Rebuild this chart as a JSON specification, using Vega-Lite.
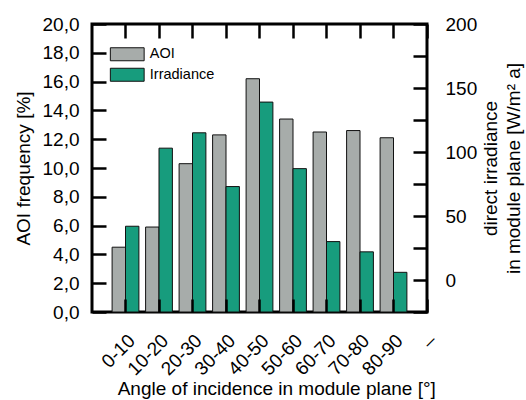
{
  "$schema": "https://vega.github.io/schema/vega-lite/v6.json",
  "width": 335,
  "height": 288,
  "autosize": "none",
  "padding": {"left": 92, "top": 24, "right": 99, "bottom": 88},
  "config": {
    "font": "Liberation Sans",
    "view": {"stroke": "black", "strokeWidth": 3},
    "axis": {
      "labelFont": "Liberation Sans",
      "titleFont": "Liberation Sans",
      "labelFontSize": 19,
      "titleFontSize": 19,
      "titleFontWeight": "normal",
      "labelColor": "black",
      "titleColor": "black",
      "ticks": true,
      "tickColor": "black",
      "tickWidth": 2.5,
      "tickOpacity": 1,
      "grid": false,
      "domain": false,
      "zindex": 1
    },
    "legend": {
      "labelFont": "Liberation Sans"
    }
  },
  "data": {
    "values": [
      {"angle": "0-10", "series": "AOI", "value": 4.5},
      {"angle": "10-20", "series": "AOI", "value": 5.9},
      {"angle": "20-30", "series": "AOI", "value": 10.3},
      {"angle": "30-40", "series": "AOI", "value": 12.3},
      {"angle": "40-50", "series": "AOI", "value": 16.2},
      {"angle": "50-60", "series": "AOI", "value": 13.4},
      {"angle": "60-70", "series": "AOI", "value": 12.5},
      {"angle": "70-80", "series": "AOI", "value": 12.6},
      {"angle": "80-90", "series": "AOI", "value": 12.1},
      {"angle": "0-10", "series": "Irradiance", "value": 42},
      {"angle": "10-20", "series": "Irradiance", "value": 103},
      {"angle": "20-30", "series": "Irradiance", "value": 115},
      {"angle": "30-40", "series": "Irradiance", "value": 73},
      {"angle": "40-50", "series": "Irradiance", "value": 139},
      {"angle": "50-60", "series": "Irradiance", "value": 87},
      {"angle": "60-70", "series": "Irradiance", "value": 30},
      {"angle": "70-80", "series": "Irradiance", "value": 22},
      {"angle": "80-90", "series": "Irradiance", "value": 6}
    ]
  },
  "layer": [
    {
      "transform": [{"filter": "datum.series === 'AOI'"}],
      "mark": {"type": "bar", "stroke": "#111111", "strokeWidth": 1},
      "encoding": {
        "x": {
          "field": "angle",
          "type": "nominal",
          "sort": null,
          "scale": {
            "domain": ["0-10", "10-20", "20-30", "30-40", "40-50", "50-60", "60-70", "70-80", "80-90", "–"],
            "range": [16.75, 351.75],
            "paddingInner": 0,
            "paddingOuter": 0
          },
          "axis": {
            "orient": "bottom",
            "offset": -13,
            "zindex": 1,
            "ticks": true,
            "tickSize": 13,
            "labelAngle": -45,
            "labelAlign": "right",
            "labelBaseline": "top",
            "labelPadding": 19,
            "title": "Angle of incidence in module plane [°]",
            "titlePadding": 1
          }
        },
        "xOffset": {
          "field": "series",
          "type": "nominal",
          "scale": {"domain": ["AOI", "Irradiance"], "paddingOuter": 0.25, "paddingInner": 0}
        },
        "y": {
          "field": "value",
          "type": "quantitative",
          "scale": {"domain": [0, 20], "nice": false},
          "axis": {
            "orient": "left",
            "offset": -14,
            "ticks": true,
            "tickSize": 14,
            "values": [0, 2, 4, 6, 8, 10, 12, 14, 16, 18, 20],
            "labelExpr": "replace(format(datum.value, '.1f'), '.', ',')",
            "labelPadding": 13,
            "title": "AOI frequency [%]",
            "titlePadding": 9
          }
        },
        "color": {
          "field": "series",
          "type": "nominal",
          "scale": {"domain": ["AOI", "Irradiance"], "range": ["#a7acaa", "#179c7d"]},
          "legend": {
            "orient": "none",
            "legendX": 28,
            "legendY": 23,
            "title": null,
            "padding": 0,
            "zindex": 2,
            "symbolType": "M-2.6,-1H2.6V1H-2.6Z",
            "symbolSize": 169,
            "symbolStrokeColor": "black",
            "symbolStrokeWidth": 1,
            "symbolOpacity": 1,
            "labelFontSize": 14.5,
            "labelColor": "black",
            "labelOffset": 15.3,
            "rowPadding": 2.5
          }
        }
      }
    },
    {
      "transform": [{"filter": "datum.series === 'Irradiance'"}],
      "mark": {"type": "bar", "stroke": "#111111", "strokeWidth": 1},
      "encoding": {
        "x": {
          "field": "angle",
          "type": "nominal",
          "sort": null,
          "axis": {
            "orient": "top",
            "offset": -14,
            "ticks": true,
            "tickSize": 14,
            "labels": false,
            "title": null
          }
        },
        "xOffset": {"field": "series", "type": "nominal"},
        "y": {
          "field": "value",
          "type": "quantitative",
          "scale": {"domain": [-25, 200], "nice": false, "zero": false},
          "axis": {
            "orient": "right",
            "offset": -14,
            "ticks": true,
            "tickSize": 14,
            "values": [-25, 0, 25, 50, 75, 100, 125, 150, 175, 200],
            "labelExpr": "datum.value % 50 === 0 ? datum.label : ''",
            "labelPadding": 18,
            "title": ["direct irradiance", "in module plane [W/m² a]"],
            "titleAngle": 270,
            "titleBaseline": "top",
            "titleLineHeight": 23,
            "titlePadding": -18
          }
        },
        "y2": {"datum": -25},
        "color": {"field": "series", "type": "nominal"}
      }
    }
  ],
  "resolve": {"scale": {"y": "independent"}, "axis": {"x": "independent"}}
}
